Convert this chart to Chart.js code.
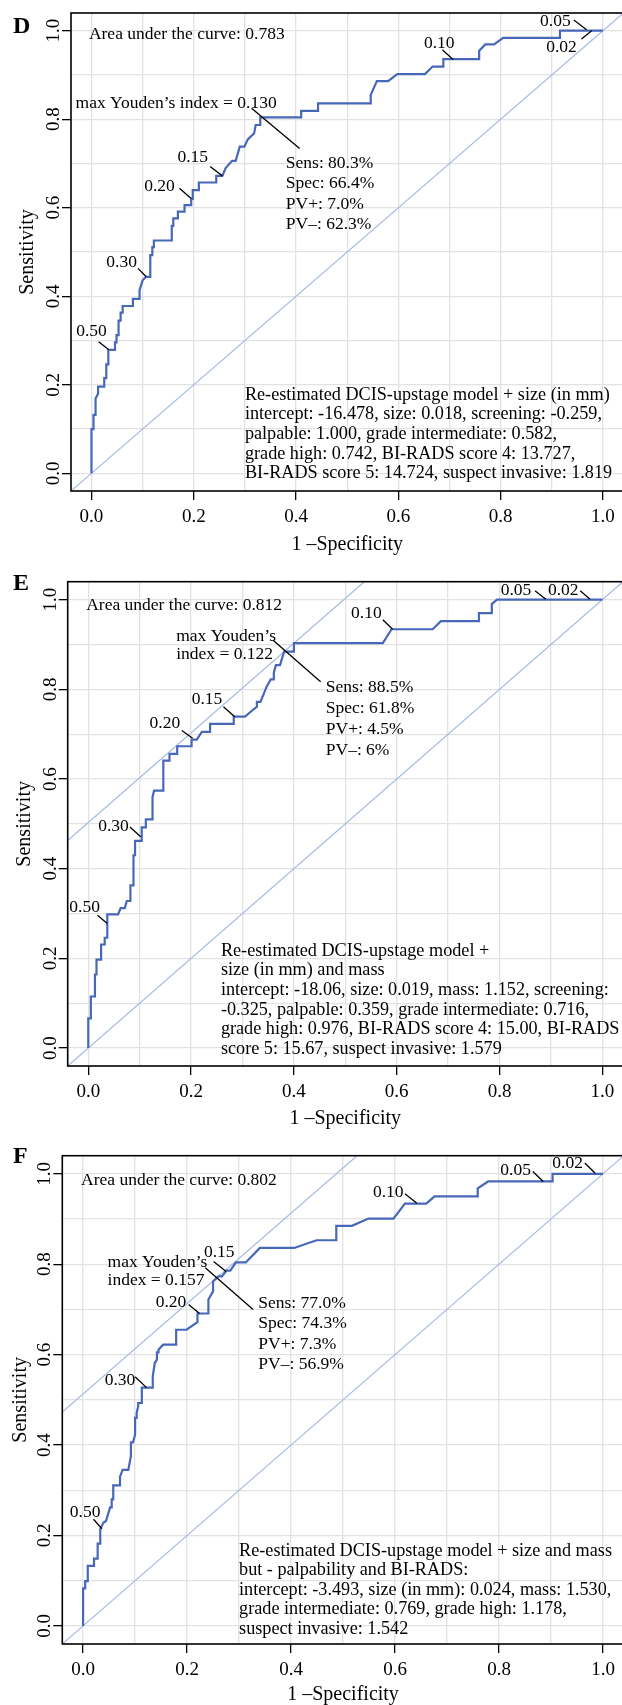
<!DOCTYPE html>
<html>
<head>
<meta charset="utf-8">
<script src="https://cdn.jsdelivr.net/npm/chart.js@4.4.1/dist/chart.umd.min.js"></script>
<style>
body { margin:0; background:#fff; overflow:hidden; width:622px; height:1705px; position:relative; }
canvas { position:absolute; left:0; }
</style>
</head>
<body>
<canvas id="rocD"></canvas>
<canvas id="rocE"></canvas>
<canvas id="rocF"></canvas>
<script>
// graduations communes (grille tous les 0.1, libellés tous les 0.2)
const tickVals = [0, 0.1, 0.2, 0.3, 0.4, 0.5, 0.6, 0.7, 0.8, 0.9, 1.0];
const axisMin = -0.04, axisMax = 1.04;

// Panel D : modele + taille
const dFpr  = [0,0,0.004,0.004,0.008,0.008,0.013,0.013,0.025,0.025,0.029,0.029,0.033,0.033,0.046,0.046,0.049,0.049,0.053,0.053,0.057,0.057,0.061,0.061,0.081,0.081,0.094,0.094,0.100,0.107,0.115,0.115,0.119,0.119,0.122,0.122,0.157,0.157,0.160,0.160,0.169,0.169,0.182,0.182,0.195,0.195,0.198,0.198,0.210,0.210,0.244,0.244,0.256,0.262,0.275,0.282,0.290,0.299,0.306,0.318,0.321,0.330,0.330,0.410,0.410,0.443,0.443,0.546,0.546,0.558,0.580,0.598,0.652,0.667,0.688,0.688,0.758,0.758,0.770,0.787,0.805,0.916,0.916,1.0];
const dSens = [0,0.100,0.100,0.132,0.132,0.169,0.180,0.196,0.196,0.215,0.215,0.246,0.246,0.279,0.279,0.296,0.296,0.312,0.312,0.345,0.345,0.363,0.363,0.378,0.378,0.394,0.394,0.414,0.436,0.444,0.444,0.493,0.493,0.511,0.511,0.526,0.526,0.559,0.559,0.576,0.576,0.591,0.591,0.606,0.606,0.620,0.620,0.640,0.640,0.657,0.657,0.672,0.672,0.689,0.706,0.706,0.738,0.738,0.755,0.768,0.787,0.787,0.804,0.804,0.819,0.819,0.836,0.836,0.855,0.886,0.886,0.902,0.902,0.919,0.919,0.936,0.936,0.955,0.969,0.969,0.984,0.984,1.0,1.0];
const dThr = ['0.50','0.30','0.20','0.15','0.10','0.05','0.02'];

// Panel E : modele + taille et masse
const eFpr  = [0,0,0.005,0.005,0.013,0.013,0.016,0.016,0.025,0.025,0.032,0.032,0.037,0.037,0.058,0.063,0.071,0.075,0.082,0.082,0.088,0.088,0.088,0.091,0.091,0.104,0.104,0.112,0.112,0.125,0.125,0.128,0.146,0.146,0.158,0.158,0.173,0.173,0.201,0.201,0.211,0.221,0.237,0.237,0.283,0.283,0.305,0.321,0.328,0.328,0.335,0.347,0.355,0.361,0.361,0.365,0.373,0.381,0.400,0.400,0.573,0.590,0.670,0.686,0.760,0.760,0.785,0.785,0.795,1.0];
const eSens = [0,0.066,0.066,0.115,0.115,0.164,0.164,0.197,0.197,0.231,0.231,0.246,0.246,0.298,0.298,0.312,0.312,0.328,0.328,0.363,0.363,0.412,0.430,0.430,0.462,0.462,0.492,0.492,0.510,0.510,0.560,0.574,0.574,0.641,0.641,0.656,0.656,0.673,0.673,0.688,0.688,0.705,0.705,0.723,0.723,0.739,0.739,0.755,0.761,0.772,0.772,0.806,0.822,0.822,0.837,0.854,0.854,0.884,0.884,0.903,0.903,0.934,0.934,0.952,0.952,0.970,0.970,0.990,1.0,1.0];
const eThr = ['0.50','0.30','0.20','0.15','0.10','0.05','0.02'];

// Panel F : modele + taille et masse, sans palpabilite ni BI-RADS
const fFpr  = [0,0,0.004,0.004,0.009,0.009,0.021,0.021,0.028,0.028,0.033,0.033,0.039,0.044,0.052,0.055,0.055,0.058,0.058,0.071,0.071,0.076,0.087,0.092,0.092,0.096,0.100,0.100,0.103,0.103,0.106,0.106,0.113,0.113,0.134,0.134,0.138,0.142,0.142,0.145,0.145,0.154,0.179,0.179,0.199,0.220,0.220,0.241,0.241,0.250,0.250,0.260,0.267,0.276,0.283,0.294,0.313,0.340,0.406,0.449,0.487,0.487,0.517,0.549,0.597,0.619,0.660,0.676,0.759,0.759,0.779,0.903,0.903,1.0];
const fSens = [0,0.083,0.083,0.099,0.099,0.133,0.133,0.149,0.149,0.182,0.182,0.214,0.228,0.232,0.262,0.262,0.280,0.280,0.311,0.311,0.330,0.345,0.345,0.376,0.406,0.406,0.423,0.460,0.460,0.471,0.486,0.493,0.493,0.527,0.527,0.552,0.582,0.589,0.605,0.605,0.611,0.622,0.622,0.655,0.655,0.672,0.691,0.691,0.722,0.740,0.762,0.773,0.773,0.786,0.786,0.804,0.804,0.836,0.836,0.853,0.853,0.885,0.885,0.901,0.901,0.934,0.934,0.950,0.950,0.968,0.983,0.983,1.0,1.0];
const fThr = ['0.50','0.30','0.20','0.15','0.10','0.05','0.02'];

// indice de Youden (sens + spec - 1) pour la droite parallele
const eYouden = 0.885 + 0.618 - 1;
const fYouden = 0.770 + 0.743 - 1;

const SERIF = '"Liberation Serif", "DejaVu Serif", serif';
const ANNOT_FONT = '17.5px ' + SERIF;
const MODEL_FONT = '18.2px ' + SERIF;

// Placement des annotations (en unites des axes)
const layoutD = {
  letter: 'D', letterY: 33,
  thr: [[0.000,0.320,0.014,0.297,0.034,0.279],[0.059,0.476,0.091,0.463,0.107,0.444],[0.133,0.649,0.172,0.644,0.195,0.621],[0.198,0.714,0.232,0.693,0.256,0.672],[0.680,0.971,0.686,0.957,0.707,0.935],[0.907,1.022,0.943,1.024,0.968,1.002],[0.919,0.963,0.958,0.981,0.978,1.0]],
  youdenLine: [0.313,0.825,0.407,0.734],
  blocks: [
    {x:-0.005, y:0.991, lh:20, lines:['Area under the curve: 0.783']},
    {x:-0.031, y:0.836, lh:20, lines:['max Youden\u2019s index = 0.130']},
    {x:0.380, y:0.700, lh:20.4, lines:['Sens: 80.3%','Spec: 66.4%','PV+: 7.0%','PV\u2013: 62.3%']},
    {x:0.300, y:0.177, lh:19.6, model:true, lines:['Re-estimated DCIS-upstage model + size (in mm)','intercept: -16.478, size: 0.018, screening: -0.259,','palpable: 1.000, grade intermediate: 0.582,','grade high: 0.742, BI-RADS score 4: 13.727,','BI-RADS score 5: 14.724, suspect invasive: 1.819']}
  ]
};
const layoutE = {
  letter: 'E', letterY: 20,
  thr: [[-0.007,0.313,0.018,0.296,0.037,0.278],[0.049,0.495,0.081,0.493,0.102,0.471],[0.149,0.723,0.182,0.708,0.203,0.691],[0.231,0.778,0.263,0.761,0.285,0.739],[0.541,0.969,0.573,0.955,0.592,0.934],[0.832,1.020,0.869,1.020,0.890,1.001],[0.924,1.020,0.957,1.020,0.976,1.001]],
  youdenLine: [0.359,0.910,0.452,0.817],
  blocks: [
    {x:-0.004, y:0.987, lh:20, lines:['Area under the curve: 0.812']},
    {x:0.171, y:0.919, lh:18, lines:['max Youden\u2019s','index = 0.122']},
    {x:0.462, y:0.804, lh:20.9, lines:['Sens: 88.5%','Spec: 61.8%','PV+: 4.5%','PV\u2013: 6%']},
    {x:0.258, y:0.217, lh:19.7, model:true, lines:['Re-estimated DCIS-upstage model +','size (in mm) and mass','intercept: -18.06, size: 0.019, mass: 1.152, screening:','-0.325, palpable: 0.359, grade intermediate: 0.716,','grade high: 0.976, BI-RADS score 4: 15.00, BI-RADS','score 5: 15.67, suspect invasive: 1.579']}
  ]
};
const layoutF = {
  letter: 'F', letterY: 23,
  thr: [[0.004,0.252,0.020,0.236,0.036,0.215],[0.071,0.543,0.100,0.551,0.122,0.527],[0.169,0.716,0.203,0.711,0.224,0.691],[0.262,0.827,0.251,0.806,0.275,0.784],[0.587,0.958,0.619,0.956,0.642,0.935],[0.832,1.008,0.865,1.005,0.885,0.983],[0.932,1.024,0.965,1.024,0.985,1.001]],
  youdenLine: [0.235,0.792,0.327,0.700],
  blocks: [
    {x:-0.004, y:0.985, lh:20, lines:['Area under the curve: 0.802']},
    {x:0.047, y:0.805, lh:18.5, lines:['max Youden\u2019s','index = 0.157']},
    {x:0.337, y:0.714, lh:20.6, lines:['Sens: 77.0%','Spec: 74.3%','PV+: 7.3%','PV\u2013: 56.9%']},
    {x:0.300, y:0.166, lh:19.6, model:true, lines:['Re-estimated DCIS-upstage model + size and mass','but - palpability and BI-RADS:','intercept: -3.493, size (in mm): 0.024, mass: 1.530,','grade intermediate: 0.769, grade high: 1.178,','suspect invasive: 1.542']}
  ]
};

// cadre, lettre du panneau, libelles des seuils et blocs de texte
const rocDecor = {
  id: 'rocDecor',
  afterDatasetsDraw(chart, args, opts) {
    const {ctx, scales: {x, y}} = chart;
    const px = v => x.getPixelForValue(v), py = v => y.getPixelForValue(v);
    const L = opts.layout;
    ctx.save();
    ctx.fillStyle = '#000';
    ctx.strokeStyle = '#000';
    ctx.lineWidth = 1.3;
    ctx.font = ANNOT_FONT;
    ctx.textBaseline = 'middle';
    ctx.textAlign = 'center';
    L.thr.forEach((t, i) => {
      ctx.fillText(opts.thrText[i], px(t[0]), py(t[1]));
      ctx.beginPath();
      ctx.moveTo(px(t[2]), py(t[3]));
      ctx.lineTo(px(t[4]), py(t[5]));
      ctx.stroke();
    });
    const yl = L.youdenLine;
    ctx.beginPath();
    ctx.moveTo(px(yl[0]), py(yl[1]));
    ctx.lineTo(px(yl[2]), py(yl[3]));
    ctx.stroke();
    ctx.textAlign = 'left';
    L.blocks.forEach(b => {
      ctx.font = b.model ? MODEL_FONT : ANNOT_FONT;
      b.lines.forEach((s, k) => ctx.fillText(s, px(b.x), py(b.y) + k * b.lh));
    });
    ctx.restore();
  },
  afterDraw(chart, args, opts) {
    const {ctx, chartArea: a} = chart;
    ctx.save();
    ctx.strokeStyle = '#000';
    ctx.lineWidth = 1.6;
    ctx.strokeRect(a.left, a.top, a.right - a.left, a.bottom - a.top);
    ctx.fillStyle = '#000';
    ctx.font = 'bold 24px ' + SERIF;
    ctx.textBaseline = 'alphabetic';
    ctx.fillText(opts.layout.letter, 13, opts.layout.letterY);
    ctx.restore();
  }
};

const isMajor = v => Math.round(v * 10) % 2 === 0;

function toPoints(xs, ys) {
  return xs.map((v, i) => ({x: v, y: ys[i]}));
}

// geo = position du cadre dans la page
function makePanel(id, fpr, sens, thrText, layout, youden, geo) {
  const canvas = document.getElementById(id);
  const W = 630, axisH = 75;
  const H = Math.round(geo.areaBottom - geo.pageTop + axisH + 4);
  canvas.width = W; canvas.height = H;
  canvas.style.top = geo.pageTop + 'px';
  canvas.style.width = W + 'px'; canvas.style.height = H + 'px';
  const yAxisW = geo.areaLeft;

  const datasets = [{
    data: toPoints(fpr, sens),
    borderColor: '#4767b9', borderWidth: 2.2, showLine: true,
    pointRadius: 0, tension: 0, order: 0
  }, {
    // diagonale de reference
    data: [{x: axisMin, y: axisMin}, {x: axisMax, y: axisMax}],
    borderColor: '#a9bbe3', borderWidth: 1.2, showLine: true,
    pointRadius: 0, order: 1
  }];
  if (youden !== null) {
    datasets.push({
      data: [{x: axisMin, y: axisMin + youden}, {x: axisMax - youden, y: axisMax}],
      borderColor: '#a9bbe3', borderWidth: 1.2, showLine: true,
      pointRadius: 0, order: 1
    });
  }

  const gridOpts = {
    color: '#e2e2e2', lineWidth: 1.3, tickLength: 9, tickWidth: 1.3,
    tickColor: c => (c.tick && isMajor(c.tick.value)) ? '#000' : 'rgba(0,0,0,0)'
  };

  new Chart(canvas, {
    type: 'scatter',
    data: {datasets: datasets},
    plugins: [rocDecor],
    options: {
      responsive: false, animation: false,
      layout: {padding: {left: 0, top: geo.areaTop - geo.pageTop, right: W - geo.areaRight, bottom: 4}},
      plugins: {legend: {display: false}, tooltip: {enabled: false},
                rocDecor: {layout: layout, thrText: thrText}},
      scales: {
        x: {
          type: 'linear', min: axisMin, max: axisMax,
          afterBuildTicks: s => { s.ticks = tickVals.map(v => ({value: v})); },
          afterFit: s => { s.height = axisH; },
          grid: gridOpts, border: {display: false},
          ticks: {autoSkip: false, maxRotation: 0, padding: 6, color: '#000',
                  font: {size: 19, family: SERIF},
                  callback: v => isMajor(v) ? v.toFixed(1) : ''},
          title: {display: true, text: '1 \u2013Specificity', color: '#000',
                  font: {size: 20, family: SERIF},
                  padding: {top: 0, bottom: axisH - 12 - geo.xTitleOff}}
        },
        y: {
          type: 'linear', min: axisMin, max: axisMax,
          afterBuildTicks: s => { s.ticks = tickVals.map(v => ({value: v})); },
          afterFit: s => { s.width = yAxisW; },
          grid: gridOpts, border: {display: false},
          ticks: {autoSkip: false, minRotation: 90, maxRotation: 90, crossAlign: 'center',
                  padding: -4, color: '#000', font: {size: 19, family: SERIF},
                  callback: v => isMajor(v) ? v.toFixed(1) : ''},
          title: {display: true, text: 'Sensitivity', color: '#000',
                  font: {size: 20, family: SERIF},
                  padding: {top: yAxisW - geo.yTitleOff - 12 + 4.5, bottom: 0}}
        }
      }
    }
  });
}

makePanel('rocD', dFpr, dSens, dThr, layoutD, null,
  {pageTop: 0, areaTop: 13, areaBottom: 491, areaLeft: 71, areaRight: 623.4, xTitleOff: 54, yTitleOff: 48});
makePanel('rocE', eFpr, eSens, eThr, layoutE, eYouden,
  {pageTop: 570, areaTop: 581.7, areaBottom: 1066, areaLeft: 67.7, areaRight: 622.9, xTitleOff: 53, yTitleOff: 47.7});
makePanel('rocF', fFpr, fSens, fThr, layoutF, fYouden,
  {pageTop: 1140, areaTop: 1155.7, areaBottom: 1644.3, areaLeft: 62.3, areaRight: 623.8, xTitleOff: 51, yTitleOff: 46.3});
</script>
</body>
</html>
